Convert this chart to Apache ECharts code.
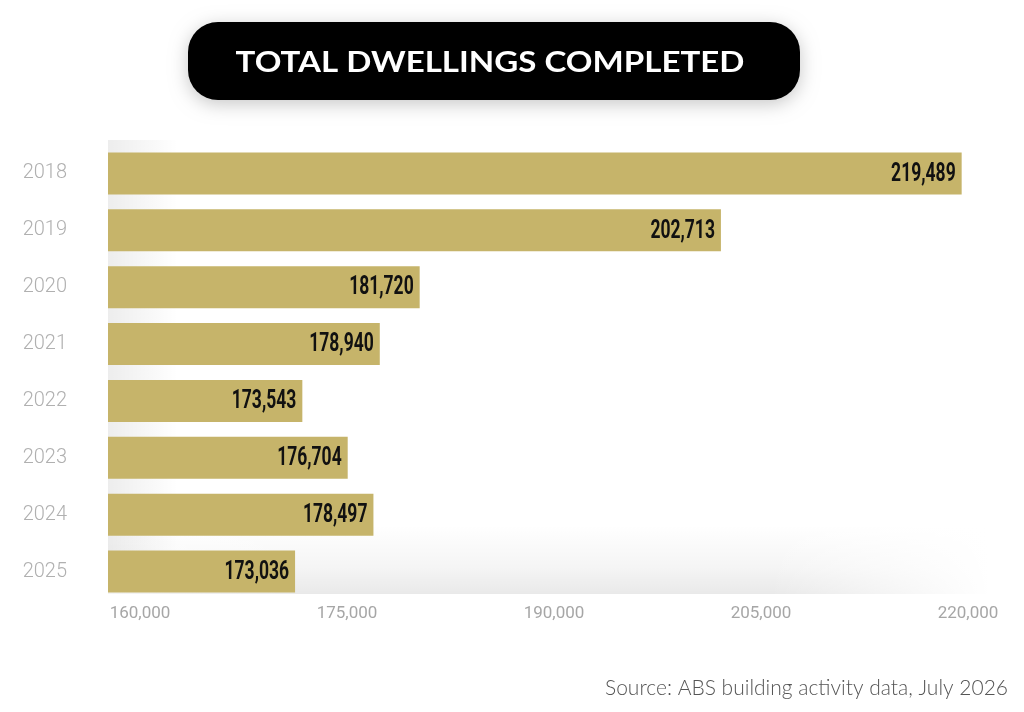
<!DOCTYPE html>
<html>
<head>
<meta charset="utf-8">
<title>Total dwellings completed</title>
<script src="https://cdn.jsdelivr.net/npm/echarts@6/dist/echarts.min.js"></script>
<style>
  html, body { margin: 0; padding: 0; background: #fff; }
  #chart { width: 1024px; height: 712px; }
</style>
</head>
<body>
<div id="chart"></div>
<script>
var years = ['2018', '2019', '2020', '2021', '2022', '2023', '2024', '2025'];
var completed = [219489, 202713, 181720, 178940, 173543, 176704, 178497, 173036];
var axisMin = 160000;
var axisMax = 220000;
var axisStep = 15000;

function fmt(v) {
    return String(v).replace(/\B(?=(\d{3})+(?!\d))/g, ',');
}

// value + row index, used by the label layer
var labelData = [];
for (var i = 0; i < completed.length; i++) {
    labelData.push([completed[i], i]);
}

var dom = document.getElementById('chart');
var myChart = echarts.init(dom, null, { renderer: 'canvas' });

function renderValueLabel(params, api) {
    var pt = api.coord([api.value(0), api.value(1)]);
    return {
        type: 'text',
        x: pt[0] - 6,
        y: pt[1] + 1,
        scaleX: 0.7,
        style: {
            text: fmt(api.value(0)),
            x: 0,
            y: 0,
            align: 'right',
            verticalAlign: 'middle',
            fill: '#111',
            font: "bold 25px 'Roboto', sans-serif"
        }
    };
}

var option = {
    backgroundColor: '#fff',
    animation: false,
    grid: [
        { left: 108, right: 55, top: 145, bottom: 112 },
        { left: 140, right: 56, top: 145, bottom: 112 }
    ],
    xAxis: [
        { gridIndex: 0, type: 'value', min: axisMin, max: axisMax, show: false },
        {
            gridIndex: 1, type: 'value', min: axisMin, max: axisMax, interval: axisStep,
            axisLine: { show: false }, axisTick: { show: false }, splitLine: { show: false },
            axisLabel: {
                margin: 5,
                color: '#a6a6a6',
                fontFamily: 'Roboto, sans-serif',
                fontSize: 17,
                formatter: function (v) { return fmt(v); }
            }
        }
    ],
    yAxis: [
        {
            gridIndex: 0, type: 'category', data: years, inverse: true,
            axisLine: { show: false }, axisTick: { show: false },
            axisLabel: {
                margin: 41,
                color: '#b0b0b0',
                fontFamily: 'Roboto, sans-serif',
                fontWeight: 300,
                fontSize: 20
            }
        },
        { gridIndex: 1, type: 'category', data: years, inverse: true, show: false }
    ],
    graphic: [
        {
            // soft shading under the lower bars
            type: 'rect', z: -3, silent: true,
            shape: { x: 108, y: 525, width: 880, height: 69 },
            style: {
                fill: new echarts.graphic.LinearGradient(0, 0, 0, 1, [
                    { offset: 0, color: 'rgba(0,0,0,0)' },
                    { offset: 0.6, color: 'rgba(0,0,0,0.04)' },
                    { offset: 1, color: 'rgba(0,0,0,0.085)' }
                ])
            }
        },
        {
            type: 'rect', z: -2, silent: true,
            shape: { x: 108, y: 520, width: 882, height: 75 },
            style: {
                fill: new echarts.graphic.LinearGradient(0, 0, 1, 0, [
                    { offset: 0, color: 'rgba(255,255,255,0.5)' },
                    { offset: 0.22, color: 'rgba(255,255,255,0)' },
                    { offset: 0.75, color: 'rgba(255,255,255,0)' },
                    { offset: 1, color: 'rgba(255,255,255,1)' }
                ])
            }
        },
        {
            type: 'rect', z: -1, silent: true,
            shape: { x: 108, y: 140, width: 70, height: 420 },
            style: {
                fill: new echarts.graphic.LinearGradient(0, 0, 1, 0, [
                    { offset: 0, color: 'rgba(0,0,0,0.07)' },
                    { offset: 1, color: 'rgba(0,0,0,0)' }
                ])
            }
        },
        {
            type: 'rect', z: 10,
            shape: { x: 188, y: 22, width: 612, height: 78, r: 30 },
            style: {
                fill: '#000',
                shadowBlur: 18,
                shadowColor: 'rgba(0,0,0,0.22)',
                shadowOffsetY: 4
            }
        },
        {
            type: 'text', z: 11,
            x: 490, y: 63,
            scaleX: 1.14,
            style: {
                text: 'TOTAL DWELLINGS COMPLETED',
                fill: '#fff',
                font: "bold 29px 'Lato', 'Open Sans', sans-serif",
                align: 'center',
                verticalAlign: 'middle'
            }
        },
        {
            type: 'text',
            x: 1008, y: 688,
            style: {
                text: 'Source: ABS building activity data, July 2026',
                fill: '#555',
                font: "300 21px 'Lato', 'Open Sans', sans-serif",
                align: 'right',
                verticalAlign: 'middle'
            }
        }
    ],
    series: [
        {
            name: 'Total dwellings completed',
            type: 'bar',
            xAxisIndex: 0,
            yAxisIndex: 0,
            data: completed,
            barWidth: 42,
            itemStyle: { color: '#c6b46a' },
            label: { show: false }
        },
        {
            name: 'Value labels',
            type: 'custom',
            xAxisIndex: 0,
            yAxisIndex: 0,
            z: 5,
            silent: true,
            encode: { x: 0, y: 1 },
            data: labelData,
            renderItem: renderValueLabel
        }
    ]
};

if (option && typeof option === "object") {
    myChart.setOption(option, true);
}
</script>
</body>
</html>
